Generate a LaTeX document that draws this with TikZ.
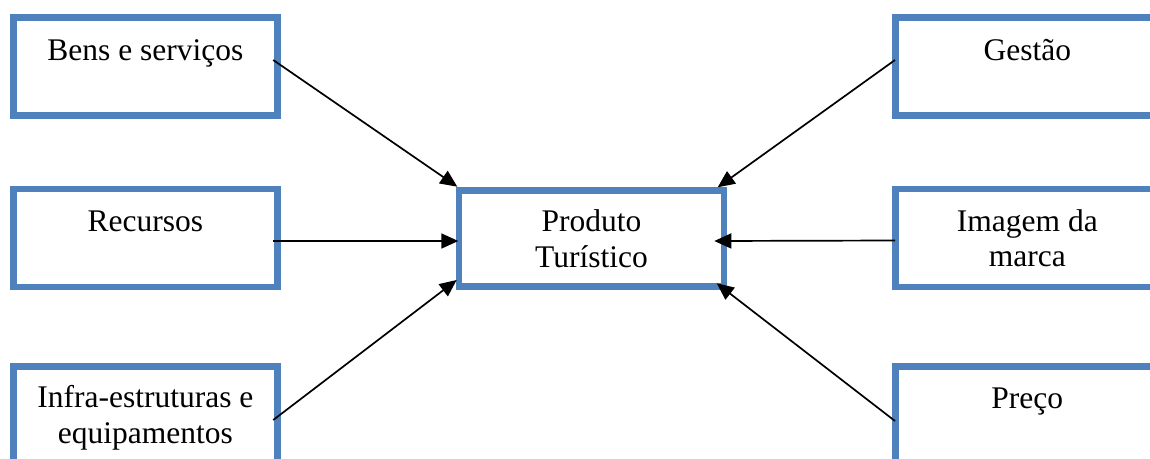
\documentclass[tikz,border=0pt]{standalone}
\usepackage{fontspec}
\setmainfont{Liberation Serif}
\usetikzlibrary{arrows.meta,calc}
\definecolor{boxblue}{HTML}{4F81BD}
\tikzset{
  sbox/.style={draw=boxblue, line width=6.5pt, fill=white, minimum width=264pt, minimum height=98pt, inner sep=0pt, outer sep=0pt},
  cbox/.style={sbox, minimum width=265pt, minimum height=96.4pt},
  lbl/.style={font=\fontsize{31.5}{35.5}\selectfont, align=center, anchor=base, inner sep=0pt},
  arr/.style={line width=1.7pt, -{Triangle[length=17pt,width=15pt]}}
}
\begin{document}
\begin{tikzpicture}[x=1pt,y=-1pt]
\useasboundingbox (0,0) rectangle (1150,458);
\clip (0,0) rectangle (1150,458);
\fill[white] (0,0) rectangle (1150,458);
% boxes
\node[sbox] (bens) at (145.4,66.7) {};
\node[sbox] (rec) at (145.4,238) {};
\node[sbox] (infra) at (145.4,415.3) {};
\node[sbox] (gestao) at (1027.3,66.7) {};
\node[sbox] (imagem) at (1027.3,238) {};
\node[sbox] (preco) at (1027.3,415.3) {};
\node[cbox] (prod) at (591.5,238.5) {};
% texts (multi-line nodes are placed at their last baseline)
\node[lbl] (bens-t) at (145.4,60) {Bens e serviços};
\node[lbl] (rec-t) at (145.4,231) {Recursos};
\node[lbl] (infra-t) at (145.4,443) {Infra-estruturas e\\equipamentos};
\node[lbl] (gestao-t) at (1027.3,60) {Gestão};
\node[lbl] (imagem-t) at (1027.3,266.7) {Imagem da\\marca};
\node[lbl] (preco-t) at (1027.3,408) {Preço};
\node[lbl] (prod-t) at (591.5,267) {Produto\\Turístico};
% connectors
\draw[arr] ($(bens.east)+(-4.2,-6.7)$) -- ($(prod.north west)+(-1.7,-3.6)$);
\draw[arr] ($(rec.east)+(-4.2,3)$) -- ($(prod.west)+(-0.7,2.5)$);
\draw[arr] ($(infra.east)+(-4.2,4.7)$) -- ($(prod.south west)+(-2.3,-6.7)$);
\draw[arr] ($(gestao.west)+(-0.3,-6.7)$) -- ($(prod.north east)+(-6.3,-3)$);
\draw[arr] ($(imagem.west)+(-0.3,2.5)$) -- ($(prod.east)+(-9.7,2.5)$);
\draw[arr] ($(preco.west)+(-0.3,5.7)$) -- ($(prod.south east)+(-7.3,-3.4)$);
\end{tikzpicture}
\end{document}
